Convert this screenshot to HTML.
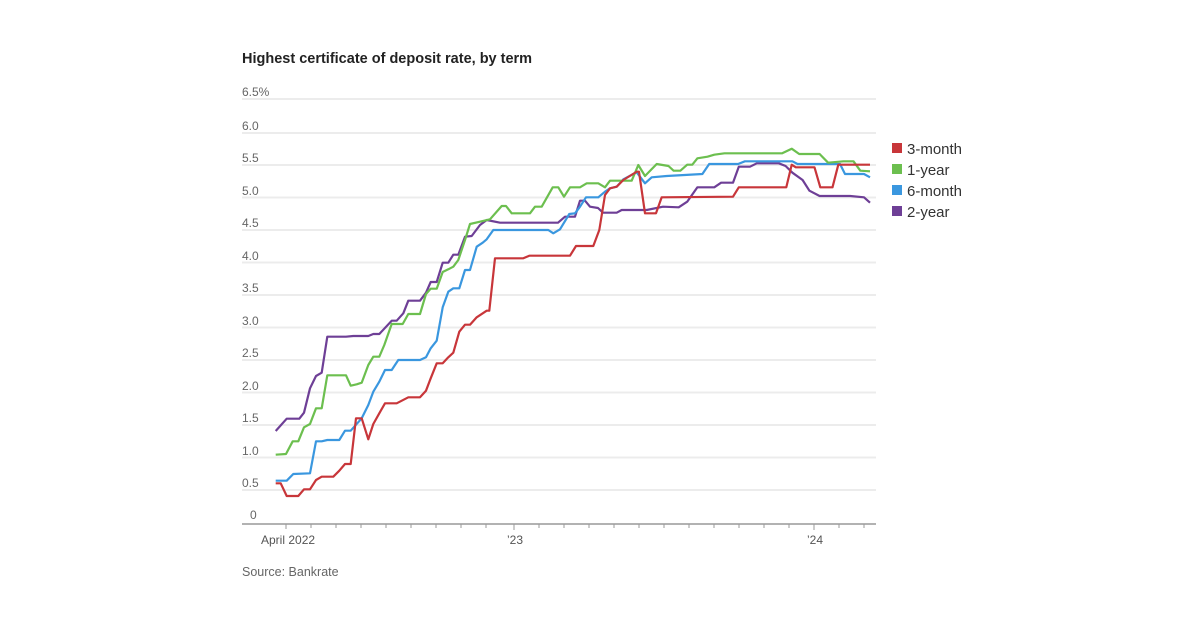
<!DOCTYPE html>
<html><head><meta charset="utf-8"><style>
body{margin:0;background:#fff;}
svg{display:block;font-family:"Liberation Sans",sans-serif;}
</style></head><body>
<svg width="1200" height="628" viewBox="0 0 1200 628">
<text x="242" y="63" font-size="14.5" font-weight="bold" fill="#222">Highest certificate of deposit rate, by term</text>
<g stroke="#ececec" stroke-width="2">
<line x1="242" x2="876" y1="99" y2="99"/><line x1="242" x2="876" y1="133" y2="133"/>
<line x1="242" x2="876" y1="165" y2="165"/><line x1="242" x2="876" y1="197.5" y2="197.5"/>
<line x1="242" x2="876" y1="230" y2="230"/><line x1="242" x2="876" y1="262.5" y2="262.5"/>
<line x1="242" x2="876" y1="295" y2="295"/><line x1="242" x2="876" y1="327.5" y2="327.5"/>
<line x1="242" x2="876" y1="360" y2="360"/><line x1="242" x2="876" y1="392.5" y2="392.5"/>
<line x1="242" x2="876" y1="425" y2="425"/><line x1="242" x2="876" y1="457.5" y2="457.5"/>
<line x1="242" x2="876" y1="490" y2="490"/>
</g>
<g font-size="12" fill="#666">
<text x="242" y="96">6.5%</text><text x="242" y="130">6.0</text><text x="242" y="162">5.5</text>
<text x="242" y="195">5.0</text><text x="242" y="227">4.5</text><text x="242" y="260">4.0</text>
<text x="242" y="292">3.5</text><text x="242" y="325">3.0</text><text x="242" y="357">2.5</text>
<text x="242" y="390">2.0</text><text x="242" y="422">1.5</text><text x="242" y="455">1.0</text>
<text x="242" y="487">0.5</text><text x="250" y="519">0</text>
</g>
<line x1="242" x2="876" y1="524" y2="524" stroke="#999" stroke-width="1.5"/>
<g stroke="#999" stroke-width="1">
<line x1="286" x2="286" y1="524" y2="529"/><line x1="311" x2="311" y1="524" y2="528"/>
<line x1="336" x2="336" y1="524" y2="528"/><line x1="361" x2="361" y1="524" y2="528"/>
<line x1="386" x2="386" y1="524" y2="528"/><line x1="411" x2="411" y1="524" y2="528"/>
<line x1="436" x2="436" y1="524" y2="528"/><line x1="461" x2="461" y1="524" y2="528"/>
<line x1="486" x2="486" y1="524" y2="528"/><line x1="514" x2="514" y1="524" y2="530"/>
<line x1="539" x2="539" y1="524" y2="528"/><line x1="564" x2="564" y1="524" y2="528"/>
<line x1="589" x2="589" y1="524" y2="528"/><line x1="614" x2="614" y1="524" y2="528"/>
<line x1="639" x2="639" y1="524" y2="528"/><line x1="664" x2="664" y1="524" y2="528"/>
<line x1="689" x2="689" y1="524" y2="528"/><line x1="714" x2="714" y1="524" y2="528"/>
<line x1="739" x2="739" y1="524" y2="528"/><line x1="764" x2="764" y1="524" y2="528"/>
<line x1="789" x2="789" y1="524" y2="528"/><line x1="814" x2="814" y1="524" y2="530"/>
<line x1="839" x2="839" y1="524" y2="528"/><line x1="864" x2="864" y1="524" y2="528"/>
</g>
<g font-size="12" fill="#555">
<text x="261" y="544">April 2022</text><text x="507" y="544">’23</text><text x="807" y="544">’24</text>
</g>
<text x="242" y="576" font-size="12.5" fill="#666">Source: Bankrate</text>
<g fill="none" stroke-width="2.2" stroke-linejoin="round">
<polyline stroke="#6e3f96" points="275.7,431 286.7,418.7 299.3,418.7 304,412.7 310,388.3 316,376 321.7,372.7 327.3,336.7 346,336.7 353.3,336 368.3,336 373.3,334 379.3,334 391.7,320.7 396.7,320.7 403.3,313.3 408.3,300.7 420,300.7 426,292.7 430.7,282 436.7,282 442.7,262.7 448.3,262.7 453.3,254.7 458.3,254.7 465,236.7 471.7,236 480,225 486.7,220 500,222.7 558,222.7 565,216.7 575,216.7 580,200.7 585,200.7 590,206.7 598,208 603,212.7 616.7,212.7 621.7,210 646.7,210 663,206.7 678.7,207.3 687.2,201.7 697.4,187.3 714.3,187.3 721.1,182.7 733,182.7 738.8,166.7 750,166.7 756.8,163.3 778.8,163.3 785.6,166 792.4,172.7 802.6,180 809.4,190.7 819.6,196 850.2,196 864,197.3 870,202.7"/>
<polyline stroke="#3a97df" points="275.7,480.7 286.7,480.7 293.3,474 310,473.3 316,441.3 321.7,441.3 327.3,440 339.3,440 345,430.7 350.7,430.7 361.7,418.3 368.3,405 373.3,391.7 379.3,381.7 385,370 391.7,370 398.3,360 420,360 426,357.3 430.7,348.3 436.7,340.7 442.7,307.3 448.3,291.7 453.3,288.3 459.3,288.3 465,270 470,270 476.7,246.7 482.7,242.7 486.7,239.3 493.3,230 548.3,230 553.3,233.3 560,229.3 569.3,214 575,213.3 580,206.7 586,197.3 598.3,197.3 605,191.7 610,188.3 616.7,186.7 623.3,179.3 636.7,172.3 645,183.3 651.7,177.3 666.7,176 702.4,174 709.2,164 738.1,164 744.9,161.3 792.4,161.3 797.5,164 840,164 845,174 864,174 870,177.3"/>
<polyline stroke="#6cbf4f" points="275.7,454.7 286,454 292.7,441.3 298.3,441.3 304,427.3 310,424 316,408.3 321.7,408.3 327.3,375.3 346,375.3 350.7,385.7 356.7,384.3 361.7,382.7 368.3,365 373.3,356.7 379.3,356.7 384.3,345 391.7,324 402.7,324 408.3,314 420,314 426,294 430.7,288.7 436.7,288.7 442.7,272 448.3,269.3 453.3,266.7 458.3,260 465,240 470,224 480,221.7 490,219.3 501.7,206 506,206 511.7,213.3 530,213.3 535,206.7 541.7,206.7 552.7,187.3 558.3,187.3 564,196.7 570,187.3 580,187.3 586.7,183.3 598.3,183.3 605,187.3 610,180.7 631.7,180.7 638.3,165 645,176 656.7,164 668.5,166 673.6,170.7 680.4,170.7 687.2,164.7 692.3,164.7 697.4,158.3 707.5,156.7 714.3,154.7 724.5,153.3 782.2,153.3 791.7,148.7 799.2,154 819.6,154 828.1,162.7 843.4,161.3 853.5,161.3 860.3,170.7 870,171.3"/>
<polyline stroke="#c8363a" points="275.7,483.3 280.7,483.3 286.7,496 298.3,496 304,489.3 310,489.3 316,480 321.7,476.7 333.3,476.7 339.3,470.7 345,464 350.7,464 356,418.3 361.7,418.3 368.3,439.3 373.3,424 379.3,413.3 385,403.3 396.7,403.3 408.3,397.3 420,397.3 426,390.7 430.7,378.3 436.7,363.3 442.7,363.3 448.3,357.3 453.3,352.7 459.3,331.7 465,324.7 470,324.7 476.7,317.3 486.7,310.7 489.3,310.7 495,258.3 523.3,258.3 529.3,255.7 570,255.7 576,246 593.3,246 599.3,230 605,195 610,188.3 616.7,186.7 623.3,180 636.7,171.7 639,171.7 645,213.3 656,213.3 661.7,197.3 733,196.7 738.8,187.3 786.3,187.3 791.7,164.7 795.8,167.3 814.5,167.3 820.3,187.3 832.5,187.3 838.3,164.7 870,164.7"/>
</g>
<g font-size="15" fill="#333">
<rect x="892" y="143" width="10" height="10" fill="#c8363a"/><text x="907" y="154">3-month</text>
<rect x="892" y="164" width="10" height="10" fill="#6cbf4f"/><text x="907" y="175">1-year</text>
<rect x="892" y="185" width="10" height="10" fill="#3a97df"/><text x="907" y="196">6-month</text>
<rect x="892" y="206" width="10" height="10" fill="#6e3f96"/><text x="907" y="217">2-year</text>
</g>
</svg>
</body></html>
